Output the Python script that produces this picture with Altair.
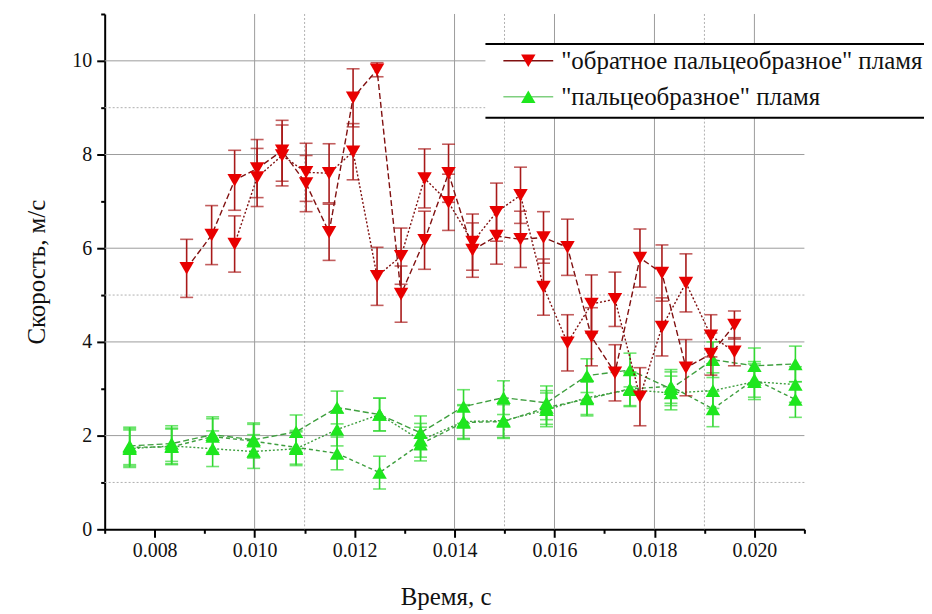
import altair as alt
import pandas as pd

# ---------------- data ----------------
series_names = ['"обратное пальцеобразное" пламя', '"пальцеобразное" пламя']

red_x = [0.00864, 0.00914, 0.00960, 0.01005, 0.01055, 0.01103, 0.01149, 0.01197,
         0.01245, 0.01293, 0.01340, 0.01388, 0.01436, 0.01484, 0.01532, 0.01578,
         0.01626, 0.01674, 0.01721, 0.01771, 0.01815, 0.01863, 0.01913, 0.01960]
red_run1 = [5.57, 6.28, 7.45, 7.70, 8.08, 7.38, 6.34, 9.21, 9.81, 5.02, 6.17, 7.60,
            5.96, 6.26, 6.19, 6.23, 6.02, 4.11, 3.34, 5.79, 5.47, 3.45, 3.74, 4.36]
red_err1 = [0.62, 0.63, 0.64, 0.62, 0.65, 0.60, 0.60, 0.62, 0.15, 0.60, 0.62, 0.62,
            0.58, 0.60, 0.60, 0.55, 0.60, 0.62, 0.60, 0.62, 0.60, 0.60, 0.45, 0.30]
red_run2 = [None, None, 6.09, 7.51, 7.98, 7.62, 7.60, 8.06, 5.40, 5.83, 7.49, 6.98,
            6.13, 6.77, 7.13, 5.17, 3.98, 4.81, 4.91, 2.83, 4.32, 5.26, 4.13, 3.79]
red_err2 = [0.0, 0.0, 0.60, 0.62, 0.65, 0.62, 0.63, 0.60, 0.62, 0.60, 0.63, 0.60,
            0.60, 0.62, 0.60, 0.60, 0.60, 0.62, 0.58, 0.62, 0.62, 0.62, 0.45, 0.30]

green_x = [0.00750, 0.00834, 0.00916, 0.00998, 0.01083, 0.01165, 0.01250, 0.01332,
           0.01418, 0.01498, 0.01584, 0.01665, 0.01751, 0.01833, 0.01917, 0.02000, 0.02082]
green_run1 = [1.78, 1.83, 2.02, 1.91, 2.08, 2.60, 2.45, 2.06, 2.62, 2.81, 2.70, 3.28,
              3.40, 3.00, 3.62, 3.49, 3.53]
green_run2 = [1.72, 1.78, 1.72, 1.66, 1.72, 2.13, 2.45, 1.90, 2.30, 2.32, 2.55, 2.81,
              2.98, 2.91, 2.96, 3.15, 3.09]
green_run3 = [1.75, 1.76, 1.98, 1.88, 1.75, 1.62, 1.21, 1.82, 2.28, 2.30, 2.60, 2.78,
              3.00, 3.05, 2.57, 3.20, 2.77]
green_err = [0.40, 0.38, 0.38, 0.36, 0.36, 0.35, 0.35, 0.36, 0.36, 0.36, 0.36, 0.36,
             0.36, 0.36, 0.38, 0.38, 0.38]

x_major = [0.008, 0.010, 0.012, 0.014, 0.016, 0.018, 0.020]
x_minor = [0.007, 0.009, 0.011, 0.013, 0.015, 0.017, 0.019, 0.021]
y_major = [0, 2, 4, 6, 8, 10]
y_minor = [1, 3, 5, 7, 9, 11]
x_grid_solid = [0.010, 0.014, 0.016, 0.018, 0.020]
x_grid_dotted = [0.011, 0.015, 0.019]
y_grid_solid = [2, 4, 6, 8, 10]
y_grid_dotted = [1, 5, 9]

# ---------------- tables ----------------
def build(xs, runs):
    rows = []
    for run, ys, errs in runs:
        for x, y, e in zip(xs, ys, errs):
            if y is None:
                continue
            rows.append(dict(t=x, v=y, lo=y - e, hi=y + e, run=run))
    return pd.DataFrame(rows)

red_df = build(red_x, [("r1", red_run1, red_err1), ("r2", red_run2, red_err2)])
green_df = build(green_x, [("g1", green_run1, green_err), ("g2", green_run2, green_err),
                           ("g3", green_run3, green_err)])

FONT = "Liberation Serif"
xs = alt.Scale(domain=[0.007, 0.021], nice=False, zero=False)
ys = alt.Scale(domain=[0, 11], nice=False, zero=True)
dash_scale = alt.Scale(domain=["r1", "r2", "g1", "g2", "g3"],
                       range=[[6, 3], [2, 2], [6, 3], [2, 2], [4, 3]])

X = lambda f="t": alt.X(f"{f}:Q", scale=xs, axis=None)
Y = lambda f="v": alt.Y(f"{f}:Q", scale=ys, axis=None)

gx1 = alt.Chart(pd.DataFrame({"t": x_grid_solid})).mark_rule(color="#9c9c9c", strokeWidth=1).encode(x=X())
gx2 = alt.Chart(pd.DataFrame({"t": x_grid_dotted})).mark_rule(color="#b0b0b0", strokeWidth=1, strokeDash=[2, 2]).encode(x=X())
gy1 = alt.Chart(pd.DataFrame({"v": y_grid_solid})).mark_rule(color="#9c9c9c", strokeWidth=1).encode(y=Y())
gy2 = alt.Chart(pd.DataFrame({"v": y_grid_dotted})).mark_rule(color="#b0b0b0", strokeWidth=1, strokeDash=[2, 2]).encode(y=Y())

minor_x = alt.Chart(pd.DataFrame({"t": x_minor})).mark_rule(opacity=0).encode(
    x=alt.X("t:Q", scale=xs, axis=alt.Axis(values=x_minor, labels=False, domain=False, grid=False,
                                             tickSize=4, tickWidth=2, tickColor="black", title=None,
                                             orient="bottom")))
minor_y = alt.Chart(pd.DataFrame({"v": y_minor})).mark_rule(opacity=0).encode(
    y=alt.Y("v:Q", scale=ys, axis=alt.Axis(values=y_minor, labels=False, domain=False, grid=False,
                                             tickSize=4, tickWidth=2, tickColor="black", title=None,
                                             orient="left")))

def series_layers(df, line_color, bar_color, fill, shape):
    base = alt.Chart(df)
    line = base.mark_line(color=line_color, strokeWidth=1.4).encode(
        x=X(), y=Y(), detail="run:N",
        strokeDash=alt.StrokeDash("run:N", scale=dash_scale, legend=None), order="t:Q")
    bar = base.mark_rule(color=bar_color, strokeWidth=1.6).encode(x=X(), y=Y("lo"), y2="hi:Q")
    cap1 = base.mark_tick(color=bar_color, orient="horizontal", size=13, thickness=1.6).encode(x=X(), y=Y("lo"))
    cap2 = base.mark_tick(color=bar_color, orient="horizontal", size=13, thickness=1.6).encode(x=X(), y=Y("hi"))
    pts = base.mark_point(shape=shape, filled=True, size=210, color=fill, opacity=1).encode(x=X(), y=Y())
    return [bar, cap1, cap2, line, pts]

green_layers = series_layers(green_df, "#3f9f3f", "#30d830", "#1ee61e", "triangle-up")
red_layers = series_layers(red_df, "#801010", "#a81a1a", "#e80000", "triangle-down")

main_axes = alt.Chart(pd.DataFrame({"t": [0.007], "v": [0]})).mark_point(opacity=0).encode(
    x=alt.X("t:Q", scale=xs, axis=alt.Axis(values=x_major, format=".3f", title="Время, с",
                                             tickSize=8, tickWidth=2, tickColor="black",
                                             domainColor="black", domainWidth=2, grid=False,
                                             labelFont=FONT, labelFontSize=20, labelColor="#111",
                                             labelPadding=3, titleFont=FONT, titleFontSize=25,
                                             titleFontWeight="normal", titleColor="#111",
                                             titlePadding=24, titleX=342, orient="bottom")),
    y=alt.Y("v:Q", scale=ys, axis=alt.Axis(values=y_major, format="d", title="Скорость, м/с",
                                             tickSize=8, tickWidth=2, tickColor="black",
                                             domainColor="black", domainWidth=2, grid=False,
                                             labelFont=FONT, labelFontSize=20, labelColor="#111",
                                             labelPadding=5, titleFont=FONT, titleFontSize=25,
                                             titleFontWeight="normal", titleColor="#111",
                                             titlePadding=22, orient="left")))

one = pd.DataFrame({"k": [0]})
leg_bg = alt.Chart(one).mark_rect(color="white").encode(
    x=alt.value(382), x2=alt.value(825), y=alt.value(30), y2=alt.value(104))
leg_top = alt.Chart(one).mark_rule(color="black", strokeWidth=2).encode(
    x=alt.value(382), x2=alt.value(825), y=alt.value(30))
leg_bot = alt.Chart(one).mark_rule(color="black", strokeWidth=2).encode(
    x=alt.value(382), x2=alt.value(825), y=alt.value(104))
leg_l1 = alt.Chart(one).mark_rule(color="#801010", strokeWidth=1.5).encode(
    x=alt.value(400), x2=alt.value(450), y=alt.value(47))
leg_l2 = alt.Chart(one).mark_rule(color="#7fcf7f", strokeWidth=1.5).encode(
    x=alt.value(400), x2=alt.value(450), y=alt.value(83))
leg_p1 = alt.Chart(one).mark_point(shape="triangle-down", filled=True, size=210, color="#e80000", opacity=1).encode(
    x=alt.value(425), y=alt.value(47))
leg_p2 = alt.Chart(one).mark_point(shape="triangle-up", filled=True, size=210, color="#1ee61e", opacity=1).encode(
    x=alt.value(425), y=alt.value(83))
leg_t1 = alt.Chart(one).mark_text(text=series_names[0], align="left", baseline="middle", font=FONT,
                                  fontSize=25, color="#111").encode(x=alt.value(458), y=alt.value(47))
leg_t2 = alt.Chart(one).mark_text(text=series_names[1], align="left", baseline="middle", font=FONT,
                                  fontSize=25, color="#111").encode(x=alt.value(458), y=alt.value(83))

chart = alt.layer(
    gx1, gx2, gy1, gy2, *green_layers, *red_layers, minor_x, minor_y, main_axes,
    leg_bg, leg_top, leg_bot, leg_l1, leg_l2, leg_p1, leg_p2, leg_t1, leg_t2,
).resolve_axis(x="independent", y="independent").properties(
    width=702, height=517,
    autosize=alt.AutoSizeParams(type="none"),
    padding={"left": 97, "top": 5, "right": 120, "bottom": 90},
).configure_view(stroke=None)

chart.save("out.html", embed_options={"renderer": "svg", "actions": False})
